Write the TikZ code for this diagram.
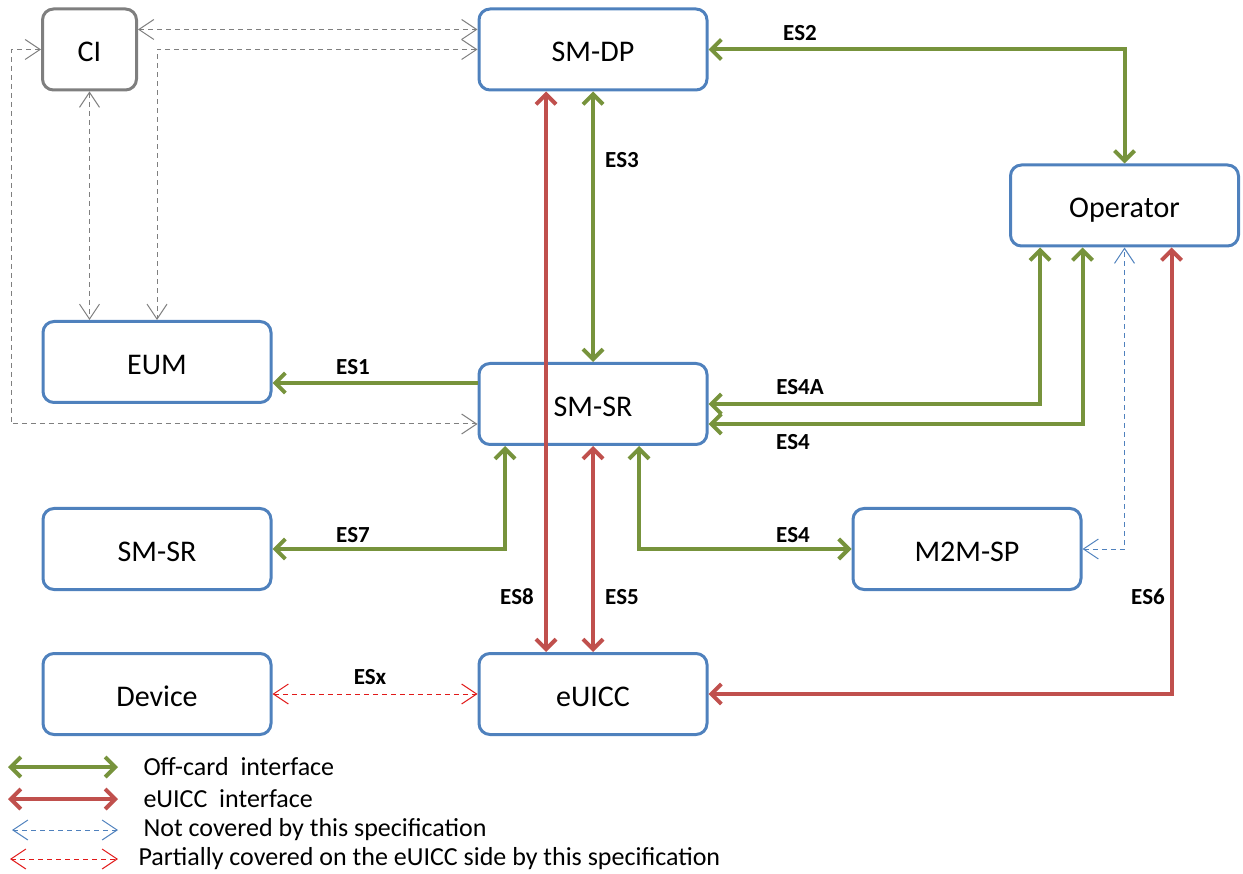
\documentclass[tikz,border=0pt]{standalone}
\usepackage{fontspec}
\setmainfont{Carlito}
\usetikzlibrary{arrows.meta}
\definecolor{boxblue}{RGB}{79,129,189}
\definecolor{cigray}{RGB}{127,127,127}
\definecolor{offgreen}{RGB}{119,147,60}
\definecolor{cardred}{RGB}{192,80,77}
\definecolor{partred}{RGB}{225,25,25}
\tikzset{
  >={Straight Barb[length=10pt,width=20pt]},
  entity/.style={draw=boxblue, line width=3pt, rounded corners=11pt,
    minimum width=228pt, minimum height=81pt, text height=25pt, text depth=0pt,
    font=\fontsize{30}{36}\selectfont},
  offcard/.style={draw=offgreen, line width=4pt},
  cardif/.style={draw=cardred, line width=4pt},
  thin dash/.style={line width=1pt, dash pattern=on 5pt off 4pt,
    >={Straight Barb[length=15pt,width=20pt]}},
  esname/.style={font=\bfseries\fontsize{23}{28}\selectfont},
  keytext/.style={anchor=west, font=\fontsize{26}{30}\selectfont}
}
\begin{document}
\begin{tikzpicture}[x=1pt,y=-1pt]
      \useasboundingbox (0,0) rectangle (1243,874);
      \node[entity, draw=cigray, minimum width=94pt] (ci) at (89.5,49.5) {CI};
      \node[entity] (smdp) at (593,49.5) {SM-DP};
      \node[entity] (op) at (1124.5,205.5) {Operator};
      \node[entity] (eum) at (157,362) {EUM};
      \node[entity] (smsr) at (593,404) {SM-SR};
      \node[entity] (smsr2) at (157,549) {SM-SR};
      \node[entity] (m2m) at (967,549) {M2M-SP};
      \node[entity] (device) at (157,694) {Device};
      \node[entity] (euicc) at (593,694) {eUICC};
      % helper points
      \coordinate (ci1) at ([yshift=20pt]ci.east);
      \coordinate (sr1) at ([yshift=21pt]smsr.west);
      \coordinate (sr4) at ([yshift=-20pt]smsr.west);
      \coordinate (sr5) at ([yshift=-20pt]smsr.east);
      % not covered
      \begin{scope}[thin dash, draw=cigray, <->]
        \draw (ci1) -- (ci1 -| smdp.west);
        \draw (smdp.west) -| (eum.north);
        \draw (ci.south) -- (ci.south |- eum.north);
        \draw (ci.west) -- ++(-30,0) |- (sr4);
      \end{scope}
      \draw[thin dash, draw=boxblue, <->] (m2m.east) -| (op.south);
      \draw[thin dash, draw=partred, <->] (device) -- (euicc);
      % off-card
      \begin{scope}[offcard, <->]
        \draw (smdp.east) -| (op.north);
        \draw (smdp.south) -- (smsr.north);
        \draw (smsr.east) -| ([xshift=-84.5pt]op.south);
        \draw (sr5) -| ([xshift=-42pt]op.south);
        \draw ([xshift=-88pt]smsr.south) |- (smsr2.east);
        \draw ([xshift=46pt]smsr.south) |- (m2m.west);
      \end{scope}
      \draw[offcard, ->] (sr1) -- (sr1 -| eum.east);
      % eUICC
      \begin{scope}[cardif, <->]
        \draw ([xshift=-47pt]smdp.south) -- ([xshift=-47pt]euicc.north);
        \draw (smsr.south) -- (euicc.north);
        \draw (euicc.east) -| ([xshift=47pt]op.south);
      \end{scope}
      % interface names
      \node[esname] (es1) at (353,367) {ES1};
      \node[esname] (es2) at (800,33) {ES2};
      \node[esname] (es3) at (622,160) {ES3};
      \node[esname] (es4a) at (800,387) {ES4A};
      \node[esname] (es4) at (793,442) {ES4};
      \node[esname] (es7) at (353,535) {ES7};
      \node[esname] (es4b) at (793,535) {ES4};
      \node[esname] (es8) at (517,597) {ES8};
      \node[esname] (es5) at (622,597) {ES5};
      \node[esname] (es6) at (1148,597) {ES6};
      \node[esname] (esx) at (370,677) {ESx};
      % legend
      \coordinate (k1a) at (8,767);   \coordinate (k1b) at (118,767);
      \coordinate (k2a) at (8,799);   \coordinate (k2b) at (118,799);
      \coordinate (k3a) at (12,830);  \coordinate (k3b) at (118,830);
      \coordinate (k4a) at (10,859);  \coordinate (k4b) at (118,859);
      \draw[offcard, <->] (k1a) -- (k1b);
      \draw[cardif, <->] (k2a) -- (k2b);
      \draw[thin dash, draw=boxblue, <->] (k3a) -- (k3b);
      \draw[thin dash, draw=partred, <->] (k4a) -- (k4b);
      \node[keytext] (key1) at (140,767) {Off-card\ \ interface};
      \node[keytext] (key2) at (140,799) {eUICC\ \ interface};
      \node[keytext] (key3) at (140,830) {Not covered by this specification};
      \node[keytext] (key4) at (135,859) {Partially covered on the eUICC side by this specification};
    \end{tikzpicture}
\end{document}
